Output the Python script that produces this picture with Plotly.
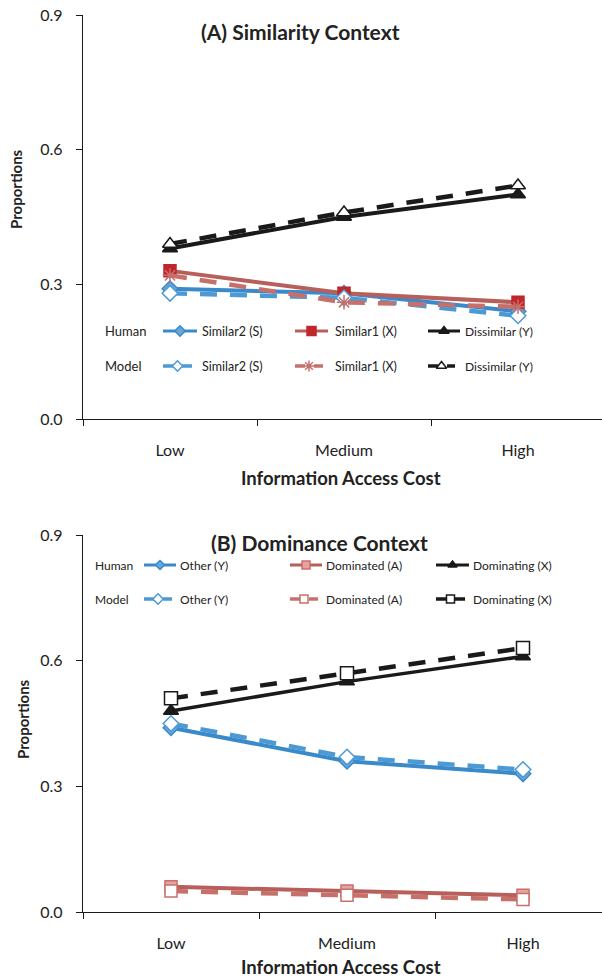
import plotly.graph_objects as go

# ---- data -------------------------------------------------------------
levels = ["Low", "Medium", "High"]

# (A) Similarity context
sim_human_similar2 = [0.29, 0.28, 0.24]
sim_model_similar2 = [0.28, 0.27, 0.23]
sim_human_similar1 = [0.33, 0.28, 0.26]
sim_model_similar1 = [0.32, 0.26, 0.25]
sim_human_dissimilar = [0.38, 0.45, 0.50]
sim_model_dissimilar = [0.39, 0.46, 0.52]

# (B) Dominance context
dom_human_other = [0.44, 0.36, 0.33]
dom_model_other = [0.45, 0.37, 0.34]
dom_human_dominated = [0.06, 0.05, 0.04]
dom_model_dominated = [0.05, 0.04, 0.03]
dom_human_dominating = [0.48, 0.55, 0.61]
dom_model_dominating = [0.51, 0.57, 0.63]

y_ticks = [0.0, 0.3, 0.6, 0.9]

# ---- styles -----------------------------------------------------------
FONT = "Lato"
BLUE = "#3a8ac9"
BLUE_D = "#4b9ad6"
BLUE_FILL = "#6aa5da"
RED_LINE = "#b75f5a"
RED_D = "#c7706b"
RED_MARK = "#c0272d"
PINK_FILL = "#e8a3a0"
BLACK = "#1a1a1a"
DASH = "17px,13px"
W = 602
H = 978

fig = go.Figure()


def series(y, xa, ya, color, width, dash, symbol, msize, mfill, mline, mlw=1.5):
    fig.add_trace(go.Scatter(
        x=levels, y=y, xaxis=xa, yaxis=ya, mode="lines+markers",
        line=dict(color=color, width=width, dash=dash),
        marker=dict(symbol=symbol, size=msize, color=mfill,
                    line=dict(color=mline, width=mlw)),
        showlegend=False, cliponaxis=False, hoverinfo="skip"))


# panel A
series(sim_human_similar2, "x", "y", BLUE, 4, "solid", "diamond", 12, BLUE_FILL, BLUE)
series(sim_human_similar1, "x", "y", RED_LINE, 4, "solid", "square", 12, RED_MARK, RED_MARK)
series(sim_human_dissimilar, "x", "y", BLACK, 4, "solid", "triangle-up", 13, BLACK, BLACK)
series(sim_model_similar2, "x", "y", BLUE_D, 4.5, DASH, "diamond", 12, "white", BLUE_D)
series(sim_model_similar1, "x", "y", RED_D, 4.5, DASH, "asterisk-open", 12, RED_D, RED_D, 1.5)
series(sim_model_dissimilar, "x", "y", BLACK, 4.5, DASH, "triangle-up", 13, "white", BLACK)

# panel B
series(dom_human_other, "x2", "y2", BLUE, 4, "solid", "diamond", 12, BLUE_FILL, BLUE)
series(dom_human_dominated, "x2", "y2", RED_LINE, 4, "solid", "square", 12, PINK_FILL, RED_D)
series(dom_human_dominating, "x2", "y2", BLACK, 3.5, "solid", "triangle-up", 13, BLACK, BLACK)
series(dom_model_other, "x2", "y2", BLUE_D, 4.5, DASH, "diamond", 12, "white", BLUE_D)
series(dom_model_dominated, "x2", "y2", RED_D, 4.5, DASH, "square", 12, "white", RED_D)
series(dom_model_dominating, "x2", "y2", BLACK, 4.5, DASH, "square", 13, "white", BLACK)


# ---- legend rows (drawn on a pixel-scaled overlay axis) --------------
def sample(x0, x1, y, color, width, dash, symbol, msize, mfill, mline, mlw=1.5):
    fig.add_trace(go.Scatter(
        x=[x0, x1], y=[y, y], xaxis="x3", yaxis="y3", mode="lines",
        line=dict(color=color, width=width, dash=dash),
        showlegend=False, hoverinfo="skip", cliponaxis=False))
    fig.add_trace(go.Scatter(
        x=[(x0 + x1) / 2], y=[y], xaxis="x3", yaxis="y3", mode="markers",
        marker=dict(symbol=symbol, size=msize, color=mfill,
                    line=dict(color=mline, width=mlw)),
        showlegend=False, hoverinfo="skip", cliponaxis=False))


annotations = []


def label(x, y, text, size=12.5, anchor="left", bold=False, angle=0):
    annotations.append(dict(
        x=x, y=y, xref="x3", yref="y3", text=("<b>%s</b>" % text) if bold else text,
        showarrow=False, xanchor=anchor, yanchor="middle", textangle=angle,
        font=dict(family=FONT, size=size, color="#222222")))


# legend A
ya_h, ya_m = 331, 366
label(103, ya_h, "Human", 13)
label(103, ya_m, "Model", 13)
sample(163, 197, ya_h, BLUE, 3, "solid", "diamond", 8, BLUE_FILL, BLUE)
sample(163, 192, ya_m, BLUE_D, 3.5, "10px,9px", "diamond", 8, "white", BLUE_D)
label(200, ya_h, "Similar2 (S)")
label(200, ya_m, "Similar2 (S)")
sample(295, 328, ya_h, RED_LINE, 3, "solid", "square", 9, RED_MARK, RED_MARK)
sample(295, 323, ya_m, RED_D, 3.5, "10px,9px", "asterisk-open", 9, RED_D, RED_D)
label(333, ya_h, "Similar1 (X)")
label(333, ya_m, "Similar1 (X)")
sample(428, 460, ya_h, BLACK, 3, "solid", "triangle-up", 9, BLACK, BLACK)
sample(428, 455, ya_m, BLACK, 3.5, "10px,9px", "triangle-up", 9, "white", BLACK)
label(463, ya_h, "Dissimilar (Y)", 12)
label(463, ya_m, "Dissimilar (Y)", 12)

# legend B
yb_h, yb_m = 565, 599
label(93, yb_h, "Human", 12)
label(93, yb_m, "Model", 12)
sample(144, 176, yb_h, BLUE, 3, "solid", "diamond", 7, BLUE_FILL, BLUE)
sample(144, 172, yb_m, BLUE_D, 3.5, "10px,9px", "diamond", 8, "white", BLUE_D)
label(178, yb_h, "Other (Y)", 12)
label(178, yb_m, "Other (Y)", 12)
sample(290, 322, yb_h, RED_LINE, 3, "solid", "square", 8, PINK_FILL, RED_D)
sample(290, 318, yb_m, RED_D, 3.5, "10px,9px", "square", 8, "white", RED_D)
label(324, yb_h, "Dominated (A)", 12)
label(324, yb_m, "Dominated (A)", 12)
sample(436, 469, yb_h, BLACK, 3, "solid", "triangle-up", 8, BLACK, BLACK)
sample(436, 465, yb_m, BLACK, 3.5, "10px,9px", "square", 8, "white", BLACK)
label(471, yb_h, "Dominating (X)", 12)
label(471, yb_m, "Dominating (X)", 12)

# titles
label(300, 31, "(A) Similarity Context", 21, "center", True)
label(319, 542, "(B) Dominance Context", 21, "center", True)
label(341, 478, "Information Access Cost", 18.5, "center", True)
label(341, 967, "Information Access Cost", 18.5, "center", True)
label(16, 189, "Proportions", 15, "center", True, -90)
label(23, 719, "Proportions", 15, "center", True, -90)

# ---- axes -------------------------------------------------------------
x_left = 83 / W


def xaxis(domain, right):
    return dict(
        domain=domain, type="category", range=[-0.5, right],
        showline=True, linecolor=BLACK, linewidth=1.3, mirror=False,
        ticks="outside", ticklen=6, tickcolor=BLACK, tickwidth=1.3,
        tickson="boundaries", showgrid=False, zeroline=False,
        tickfont=dict(family=FONT, size=16, color="#222222"),
        ticklabelstandoff=17, automargin=False, fixedrange=True)


def yaxis(domain, anchor):
    return dict(
        domain=domain, anchor=anchor, range=[0, 0.9], tickvals=y_ticks,
        tickformat=".1f", showline=True, linecolor=BLACK, linewidth=1.3,
        ticks="outside", ticklen=6, tickcolor=BLACK, tickwidth=1.3,
        showgrid=False, zeroline=False,
        tickfont=dict(family=FONT, size=16, color="#222222"),
        ticklabelstandoff=10, automargin=False, fixedrange=True)


xa = xaxis([x_left, 1], 2.5 - 3 / 174)
xa["anchor"] = "y"
xb = xaxis([x_left, 1], 2.5 - 9 / 176)
xb["anchor"] = "y2"

fig.update_layout(
    width=W, height=H,
    margin=dict(l=0, r=0, t=0, b=0, pad=0),
    paper_bgcolor="white", plot_bgcolor="rgba(0,0,0,0)",
    xaxis=xa,
    yaxis=yaxis([1 - 419 / H, 1 - 15 / H], "x"),
    xaxis2=xb,
    yaxis2=yaxis([1 - 912 / H, 1 - 535 / H], "x2"),
    xaxis3=dict(domain=[0, 1], range=[0, W], visible=False, anchor="y3",
                automargin=False, fixedrange=True),
    yaxis3=dict(domain=[0, 1], range=[H, 0], visible=False, anchor="x3",
                automargin=False, fixedrange=True),
    annotations=annotations,
    showlegend=False,
)

fig.write_html("out.html", config={"displayModeBar": False})
